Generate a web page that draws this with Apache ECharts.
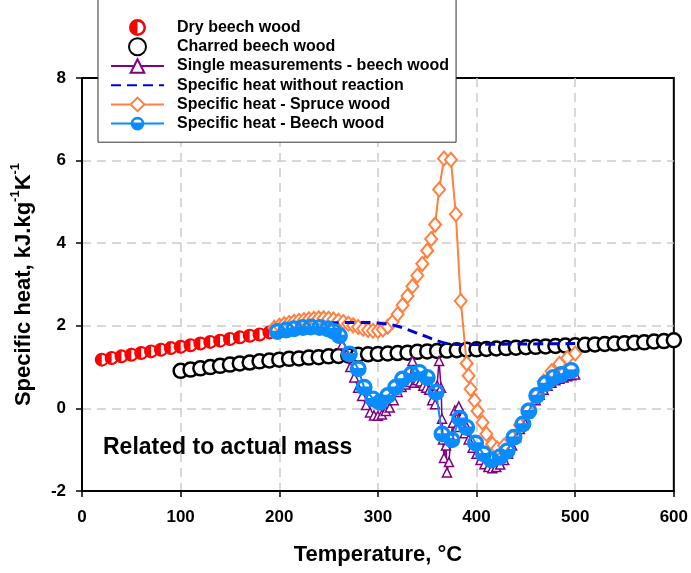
<!DOCTYPE html>
<html>
<head>
<meta charset="utf-8">
<script src="https://cdn.jsdelivr.net/npm/echarts@6/dist/echarts.min.js"></script>
<style>
  html, body { margin: 0; padding: 0; background: #fff; }
  #chart { width: 691px; height: 573px; }
</style>
</head>
<body>
<div id="chart"></div>
<script>
// Dry beech wood (measured specific heat, kJ/kg/K)
const dryT  = [20, 30, 40, 50, 60, 70, 80, 90, 100, 110, 120, 130, 140, 150, 160, 170, 180, 190];
const dryCp = [1.18, 1.22, 1.26, 1.30, 1.34, 1.38, 1.42, 1.46, 1.49, 1.53, 1.57, 1.61, 1.64, 1.68, 1.72, 1.76, 1.79, 1.84];

// Charred beech wood
const charT  = [100, 110, 120, 130, 140, 150, 160, 170, 180, 190, 200, 210, 220, 230, 240, 250, 260, 270, 280, 290,
                300, 310, 320, 330, 340, 350, 360, 370, 380, 390, 400, 410, 420, 430, 440, 450, 460, 470, 480, 490,
                500, 510, 520, 530, 540, 550, 560, 570, 580, 590, 600];
const charCp = [0.91, 0.94, 0.97, 1.00, 1.03, 1.06, 1.09, 1.11, 1.14, 1.16, 1.18, 1.20, 1.21, 1.23, 1.24, 1.26, 1.27, 1.28, 1.30, 1.31,
                1.32, 1.33, 1.34, 1.35, 1.37, 1.38, 1.39, 1.40, 1.41, 1.42, 1.43, 1.44, 1.45, 1.46, 1.47, 1.48, 1.49, 1.50, 1.51, 1.52,
                1.53, 1.54, 1.55, 1.56, 1.57, 1.58, 1.59, 1.60, 1.62, 1.63, 1.65];

// Single measurements - beech wood
const singleT  = [264, 268, 272, 276, 280, 284, 288, 292, 296, 300, 304, 308, 312, 316, 320, 324, 328, 332, 335, 337,
                  340, 343, 346, 349, 352, 355, 358, 360, 362, 364, 365, 366, 367, 369, 370, 372, 374, 376, 378, 380,
                  382, 384, 386, 388, 390, 392, 396, 400, 404, 408, 412, 416, 420, 424, 428, 432, 436, 440, 444, 448,
                  452, 456, 460, 464, 468, 472, 476, 480, 484, 488, 492, 496, 500];
const singleCp = [1.55, 1.30, 1.00, 0.75, 0.50, 0.30, 0.08, -0.10, -0.17, -0.18, -0.15, -0.06, 0.02, 0.20, 0.40, 0.52, 0.58, 0.64, 1.15, 0.62,
                  0.68, 0.65, 0.55, 0.50, 0.45, 0.20, 0.10, 0.55, 1.15, 0.50, -0.25, -0.75, -1.20, -0.90, -1.55, -1.30, -0.70, -0.35, -0.05, -0.45,
                  0.05, -0.30, -0.15, -0.60, -0.45, -0.75, -0.95, -1.10, -1.25, -1.35, -1.42, -1.45, -1.42, -1.36, -1.25, -1.10, -0.90, -0.70, -0.50, -0.30,
                  -0.12, 0.05, 0.20, 0.33, 0.45, 0.55, 0.62, 0.68, 0.72, 0.75, 0.78, 0.80, 0.82];

// Specific heat without reaction
const noReactT  = [250, 270, 290, 300, 310, 320, 330, 340, 350, 360, 370, 380, 400, 450, 500];
const noReactCp = [2.07, 2.08, 2.08, 2.07, 2.04, 1.99, 1.91, 1.82, 1.73, 1.64, 1.57, 1.55, 1.55, 1.56, 1.57];

// Specific heat - Spruce wood
const spruceT  = [195, 200, 205, 210, 215, 220, 225, 230, 235, 240, 245, 250, 255, 260, 265, 270, 275, 280, 285, 290,
                  295, 300, 305, 310, 315, 320, 325, 330, 335, 340, 345, 350, 354, 358, 362, 367, 374, 379, 384, 390,
                  392, 394, 398, 401, 406, 410, 416, 421, 428, 436, 444, 452, 460, 468, 476, 484, 492, 500];
const spruceCp = [1.95, 2.00, 2.04, 2.07, 2.10, 2.12, 2.14, 2.16, 2.17, 2.18, 2.18, 2.17, 2.15, 2.12, 2.09, 2.05, 2.01, 1.97, 1.93, 1.90,
                  1.88, 1.88, 1.91, 1.98, 2.10, 2.28, 2.50, 2.72, 2.96, 3.22, 3.50, 3.82, 4.10, 4.45, 5.30, 6.05, 6.02, 4.70, 2.60, 1.09,
                  0.79, 0.47, 0.19, -0.06, -0.34, -0.62, -0.86, -0.97, -0.90, -0.70, -0.40, -0.05, 0.30, 0.65, 0.90, 1.08, 1.22, 1.33];

// Specific heat - Beech wood
const beechT  = [198, 207, 215, 224, 232, 241, 249, 255, 261, 271, 280, 286, 295, 302, 310, 318, 325, 334, 342, 350,
                 359, 365, 375, 383, 390, 399, 407, 415, 424, 431, 438, 447, 453, 461, 470, 478, 486, 496];
const beechCp = [1.86, 1.90, 1.93, 1.96, 1.97, 1.96, 1.93, 1.87, 1.76, 1.32, 0.96, 0.51, 0.23, 0.15, 0.31, 0.51, 0.71, 0.83, 0.87, 0.75,
                 0.39, -0.62, -0.76, -0.24, -0.46, -0.84, -1.10, -1.25, -1.17, -1.03, -0.70, -0.38, -0.06, 0.31, 0.60, 0.75, 0.82, 0.92];

const seriesNames = [
  'Dry beech wood',
  'Charred beech wood',
  'Single measurements - beech wood',
  'Specific heat without reaction',
  'Specific heat - Spruce wood',
  'Specific heat - Beech wood'
];

const pairs = (xs, ys) => xs.map((x, i) => [x, ys[i]]);

// Ring with a filled left half
const halfCircle = 'path://M0,10 A10,10 0 1 1 20,10 A10,10 0 1 1 0,10 Z M10,3 L10,17 A7,7 0 0 0 10,3 Z';
// Filled disc with a glossy cut-out in its upper half
const glossCircle = 'path://M0,10 A10,10 0 1 1 20,10 A10,10 0 1 1 0,10 Z M16,9 A6,5 0 0 0 4,9 Z';

const FONT = 'Liberation Sans, Arial, sans-serif';
const GRID_LINE = { color: '#cccccc', width: 1.5, type: [9, 6] };

const chart = echarts.init(document.getElementById('chart'), null, { renderer: 'canvas' });

chart.setOption({
  animation: false,
  backgroundColor: '#fff',
  textStyle: { fontFamily: FONT },
  grid: {
    left: 82, right: 16, top: 78, bottom: 82,
    show: true, borderColor: '#000', borderWidth: 2, backgroundColor: 'transparent'
  },
  legend: {
    data: seriesNames.map(n => n === 'Specific heat without reaction'
      ? { name: n, itemStyle: { color: 'rgba(0,0,0,0)', borderColor: 'rgba(0,0,0,0)', borderWidth: 0 } }
      : { name: n }),
    orient: 'vertical',
    left: 98, top: -3,
    padding: [21, 7, 9, 12],
    itemWidth: 53, itemHeight: 17, itemGap: 0,
    backgroundColor: '#fff',
    borderColor: '#333', borderWidth: 1, borderRadius: 0,
    textStyle: {
      fontFamily: FONT, fontSize: 16, fontWeight: 'bold', color: '#000',
      lineHeight: 19.2, padding: [0, 0, 0, 8]
    }
  },
  xAxis: {
    type: 'value', min: 0, max: 600, interval: 100,
    name: 'Temperature, °C', nameLocation: 'middle', nameGap: 53,
    nameTextStyle: { fontFamily: FONT, fontSize: 22, fontWeight: 'bold', color: '#000' },
    axisLine: { onZero: false, lineStyle: { color: '#000', width: 2 } },
    axisTick: { show: true, inside: false, length: 6, lineStyle: { color: '#000', width: 1.5 } },
    axisLabel: { margin: 18, fontFamily: FONT, fontSize: 17, fontWeight: 'bold', color: '#000' },
    splitLine: { show: true, showMinLine: false, showMaxLine: false, lineStyle: GRID_LINE }
  },
  yAxis: {
    type: 'value', min: -2, max: 8, interval: 2,
    name: '{a|Specific heat, kJ.kg}{s|-1}{a|K}{s|-1}',
    nameLocation: 'middle', nameGap: 47, nameRotate: 90,
    nameTextStyle: {
      rich: {
        a: { fontFamily: FONT, fontSize: 22, fontWeight: 'bold', color: '#000', lineHeight: 26, verticalAlign: 'bottom' },
        s: { fontFamily: FONT, fontSize: 13, fontWeight: 'bold', color: '#000', lineHeight: 26, verticalAlign: 'top' }
      }
    },
    axisLine: { onZero: false, lineStyle: { color: '#000', width: 2 } },
    axisTick: { show: true, inside: false, length: 6, lineStyle: { color: '#000', width: 1.5 } },
    axisLabel: { margin: 16, fontFamily: FONT, fontSize: 17, fontWeight: 'bold', color: '#000' },
    splitLine: { show: true, showMinLine: false, showMaxLine: false, lineStyle: GRID_LINE }
  },
  graphic: [{
    type: 'text', left: 103, top: 436, z: 20,
    style: { text: 'Related to actual mass', font: 'bold 23px ' + FONT, fill: '#000' }
  }],
  series: [
    {
      name: seriesNames[1], type: 'scatter', z: 2,
      data: pairs(charT, charCp),
      symbol: 'circle', symbolSize: 14,
      itemStyle: { color: '#fff', borderColor: '#000', borderWidth: 2.5, opacity: 1 }
    },
    {
      name: seriesNames[0], type: 'scatter', z: 3,
      data: pairs(dryT, dryCp),
      symbol: halfCircle, symbolSize: 14,
      itemStyle: { color: '#ff0000', opacity: 1 }
    },
    {
      name: seriesNames[2], type: 'line', z: 4,
      data: pairs(singleT, singleCp),
      symbol: 'triangle', symbolSize: 9, showSymbol: true,
      lineStyle: { color: '#800080', width: 1.5 },
      itemStyle: { color: '#fff', borderColor: '#800080', borderWidth: 1.5 }
    },
    {
      name: seriesNames[4], type: 'line', z: 5,
      data: pairs(spruceT, spruceCp),
      symbol: 'diamond', symbolSize: [12, 14], showSymbol: true,
      lineStyle: { color: '#ff8040', width: 2 },
      itemStyle: { color: '#fff', borderColor: '#ff8040', borderWidth: 2 }
    },
    {
      name: seriesNames[3], type: 'line', z: 6,
      data: pairs(noReactT, noReactCp),
      symbol: 'circle', showSymbol: false, smooth: 0.3,
      lineStyle: { color: '#0000dd', width: 3, type: [10, 6] },
      itemStyle: { color: '#0000dd' }
    },
    {
      name: seriesNames[5], type: 'line', z: 7,
      data: pairs(beechT, beechCp),
      symbol: glossCircle, symbolSize: 17, showSymbol: true,
      lineStyle: { color: '#0a8cff', width: 2 },
      itemStyle: { color: '#0a8cff' }
    }
  ]
});
</script>
</body>
</html>
